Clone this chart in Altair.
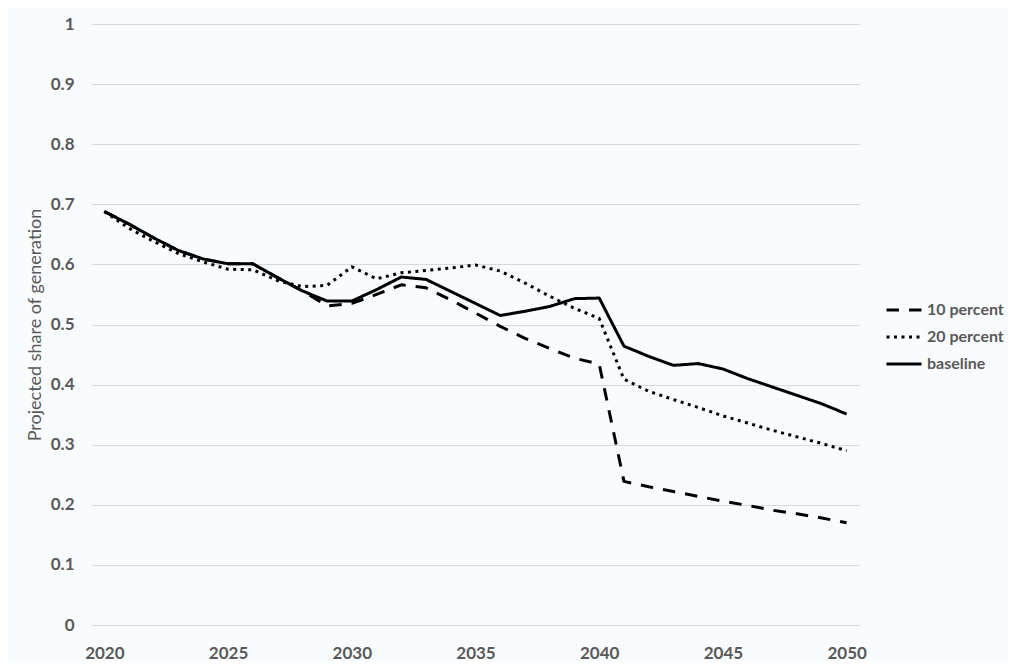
import altair as alt
import pandas as pd

years = list(range(2020, 2051))

ten_percent = [0.688, 0.667, 0.644, 0.623, 0.609, 0.601, 0.601, 0.578, 0.556, 0.531,
               0.535, 0.550, 0.566, 0.561, 0.541, 0.519, 0.497, 0.477, 0.460, 0.444,
               0.434, 0.239, 0.230, 0.222, 0.214, 0.206, 0.199, 0.191, 0.185, 0.178,
               0.170]

twenty_percent = [0.688, 0.660, 0.638, 0.618, 0.604, 0.592, 0.591, 0.573, 0.563, 0.565,
                  0.596, 0.576, 0.586, 0.590, 0.594, 0.599, 0.589, 0.569, 0.547, 0.527,
                  0.510, 0.409, 0.389, 0.375, 0.362, 0.348, 0.336, 0.324, 0.313, 0.302,
                  0.290]

baseline = [0.688, 0.667, 0.644, 0.623, 0.609, 0.601, 0.601, 0.578, 0.556, 0.539,
            0.539, 0.558, 0.579, 0.575, 0.555, 0.535, 0.515, 0.522, 0.530, 0.543,
            0.544, 0.464, 0.447, 0.432, 0.435, 0.426, 0.410, 0.396, 0.382, 0.368,
            0.351]

series_names = ["10 percent", "20 percent", "baseline"]
x_ticks = [2020, 2025, 2030, 2035, 2040, 2045, 2050]
y_ticks = [0, 0.1, 0.2, 0.3, 0.4, 0.5, 0.6, 0.7, 0.8, 0.9, 1]

rows = []
for name, vals in zip(series_names, [ten_percent, twenty_percent, baseline]):
    for yr, v in zip(years, vals):
        rows.append({"year": yr, "share": v, "series": name})
df = pd.DataFrame(rows)

TEXT = "#595959"
FONT = "Lato"

chart = alt.Chart(df).mark_line(
    color="black", strokeWidth=3, strokeCap="butt", strokeJoin="round"
).encode(
    x=alt.X(
        "year:Q",
        scale=alt.Scale(domain=[2019.5, 2050.5], nice=False, zero=False),
        axis=alt.Axis(
            values=x_ticks, format="d", grid=False, domain=False, ticks=False,
            labelPadding=20, title=None, labelFont=FONT, labelFontWeight="bold",
            labelFontSize=17, labelColor=TEXT,
        ),
    ),
    y=alt.Y(
        "share:Q",
        scale=alt.Scale(domain=[0, 1], nice=False),
        axis=alt.Axis(
            values=y_ticks, format="~g", grid=True, gridColor="#d9d9d9", gridWidth=1,
            domain=False, ticks=False, labelPadding=18,
            title="Projected share of generation", titleFont=FONT,
            titleFontWeight="normal", titleFontSize=18, titleColor=TEXT, titlePadding=6,
            labelFont=FONT, labelFontWeight="bold", labelFontSize=17, labelColor=TEXT,
        ),
    ),
    strokeDash=alt.StrokeDash(
        "series:N",
        scale=alt.Scale(domain=series_names, range=[[12.5, 10], [3, 4.5], [1, 0]]),
        legend=alt.Legend(
            title=None, orient="none", legendX=793, legendY=267, padding=0,
            symbolType="stroke", symbolSize=1225, symbolStrokeWidth=3,
            symbolStrokeColor="black", rowPadding=-4, labelOffset=4,
            labelFont=FONT, labelFontSize=16, labelFontWeight="bold", labelColor=TEXT,
        ),
    ),
).properties(
    width=767,
    height=601,
    autosize=alt.AutoSizeParams(type="none"),
    padding={"left": 84, "top": 16, "right": 149, "bottom": 36},
    background="#f9fcfe",
).configure_view(stroke=None)

chart.save("out.html", embed_options={"renderer": "svg", "actions": False})
